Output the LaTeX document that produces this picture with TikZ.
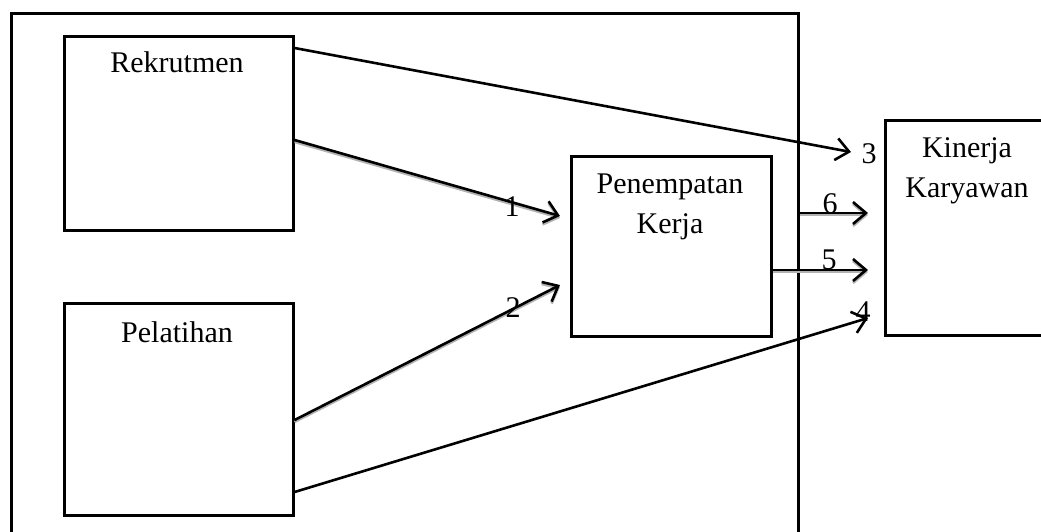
\documentclass[tikz,border=0pt]{standalone}
\usepackage{fontspec}
\setmainfont{Liberation Serif}
\usetikzlibrary{arrows.meta,calc}
\begin{document}
\begin{tikzpicture}[x=1pt,y=-1pt,
  box/.style={draw,line width=2.6pt,minimum width=#1,anchor=north west,inner sep=0pt},
  lbl/.style={font=\fontsize{30}{40}\selectfont,align=center,anchor=base,inner sep=0pt},
  num/.style={font=\fontsize{30}{36}\selectfont,inner sep=0pt},
  link/.style={line width=2.6pt,-{Straight Barb[length=13pt,width=22pt,line width=2.6pt]}},
  shade/.style={link,draw=gray!60,line width=2.4pt,transform canvas={yshift=-2pt}}]
\useasboundingbox (0,0) rectangle (1041,531);
\clip (0,0) rectangle (1041,531);

% outer frame (runs past the lower edge)
\node[box=787pt,minimum height=560pt] (frame) at (10,12) {};

% boxes
\node[box=229pt,minimum height=194pt] (rek) at (63,35) {};
\node[box=229pt,minimum height=212pt] (pel) at (63,302) {};
\node[box=200pt,minimum height=180pt] (pen) at (570,155) {};
\node[box=180pt,minimum height=215pt] (kin) at (884,119) {};

% box titles (base = baseline of the last line)
\node[lbl] (rekT) at (177,72) {Rekrutmen};
\node[lbl] (pelT) at (177,342) {Pelatihan};
\node[lbl] (penT) at (670,233) {Penempatan\\Kerja};
\node[lbl] (kinT) at (967,197) {Kinerja\\Karyawan};

% arrow tips
\coordinate (t1) at (560,216);
\coordinate (t2) at (560,285);
\coordinate (t3) at (851,152);
\coordinate (t4) at (868,318);
\coordinate (t5) at (868,270);
\coordinate (t6) at (868,213);

% arrow start points on the box borders
\coordinate (s1) at ($(rek.north east)+(0,105)$);
\coordinate (s2) at ($(pel.north east)+(0,118)$);
\coordinate (s3) at ($(rek.north east)+(0,13)$);
\coordinate (s4) at ($(pel.north east)+(0,190)$);
\coordinate (s5) at ($(pen.north east)+(0,115)$);
\coordinate (s6) at (frame.east |- t6);

% grey under-strokes
\draw[shade] (s1) -- (t1);
\draw[shade] (s2) -- (t2);
\draw[shade] (s5) -- (t5);
\draw[shade] (s6) -- (t6);

% connectors
\draw[link] (s1) -- (t1);
\draw[link] (s2) -- (t2);
\draw[link] (s3) -- (t3);
\draw[link] (s4) -- (t4);
\draw[link] (s5) -- (t5);
\draw[link] (s6) -- (t6);

% connector numbers
\node[num] (n1) at (512,207) {1};
\node[num] (n2) at (513,308) {2};
\node[num] (n3) at (869,154) {3};
\node[num] (n4) at (863,312) {4};
\node[num] (n5) at (829,260) {5};
\node[num] (n6) at (830,204) {6};
\end{tikzpicture}
\end{document}
